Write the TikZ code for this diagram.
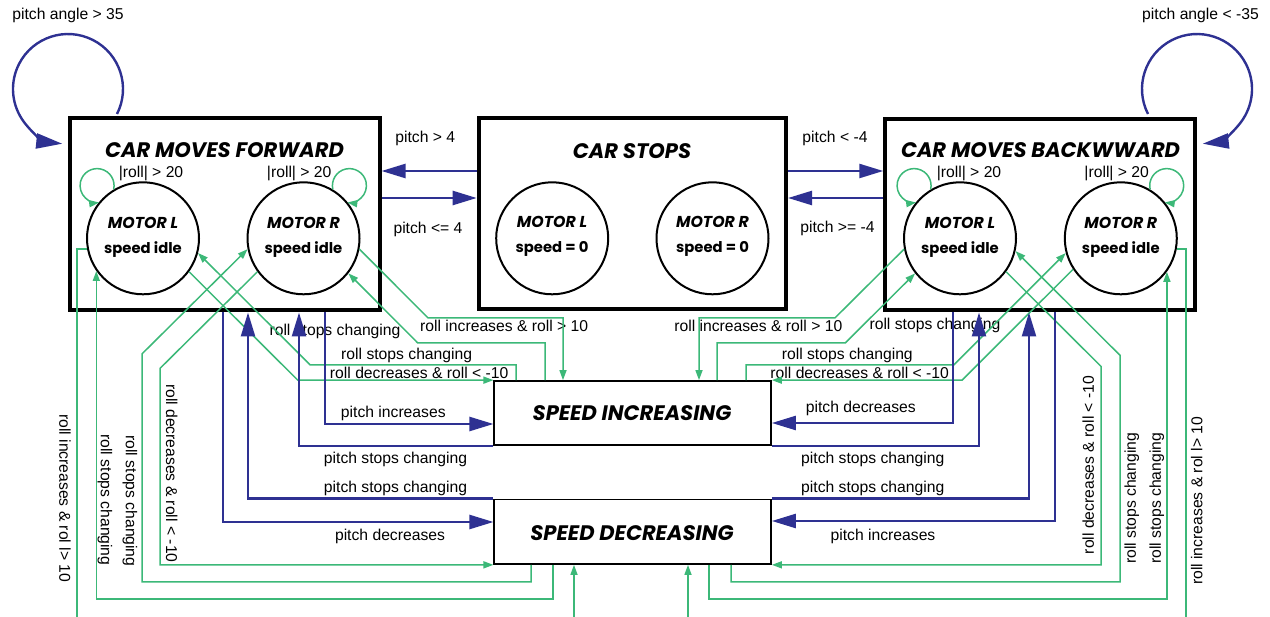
\documentclass[tikz,border=0pt]{standalone}
\usepackage{fontspec}
\setmainfont{Liberation Sans}
\newfontfamily\pop{Poppins}
\usetikzlibrary{arrows.meta}
\definecolor{myblue}{RGB}{46,49,146}
\definecolor{mygreen}{RGB}{60,184,120}
\tikzset{
 bigbox/.style={draw=black, line width=4pt, inner sep=0pt},
 sbox/.style={draw=black, line width=1.7pt, inner sep=0pt, minimum width=276.7pt, minimum height=64pt},
 motor/.style={circle, draw=black, line width=2pt, minimum size=112pt, inner sep=0pt},
 ttl/.style={font=\pop\bfseries\itshape\fontsize{21}{24}\selectfont, anchor=base, inner sep=0pt},
 mtl/.style={font=\pop\bfseries\itshape\fontsize{15.8}{18}\selectfont, anchor=base, inner sep=0pt},
 spd/.style={font=\pop\bfseries\fontsize{14.8}{17}\selectfont, anchor=base, inner sep=0pt},
 lab/.style={font=\fontsize{15.7}{18}\selectfont, anchor=base, inner sep=0pt},
 vlab/.style={font=\fontsize{15.7}{18}\selectfont, inner sep=0pt},
 bline/.style={draw=myblue, line width=2.4pt},
 barrow/.style={bline, -{Triangle[length=24pt,width=14pt]}},
 bloop/.style={bline, -{Triangle[length=26pt,width=15pt]}},
 gline/.style={draw=mygreen, line width=1.5pt},
 garrow/.style={gline, -{Triangle[length=10pt,width=7pt]}},
}
\begin{document}
\begin{tikzpicture}[x=1pt,y=-1pt]
\useasboundingbox (0,0) rectangle (1270,617);
% boxes
\node[bigbox, minimum width=310pt, minimum height=192pt] (fwd) at (224.5,214.5) {};
\node[bigbox, minimum width=307.3pt, minimum height=191pt] (stop) at (632.35,214) {};
\node[bigbox, minimum width=310pt, minimum height=191.8pt] (bwd) at (1040.3,214.6) {};
\node[sbox] (si) at (632.65,413) {};
\node[sbox, minimum height=64.5pt] (sd) at (632.65,531.75) {};
% titles
\node[ttl] (tf) at (224.5,157.7) {CAR MOVES FORWARD};
\node[ttl] (ts) at (632,158.3) {CAR STOPS};
\node[ttl] (tb) at (1040.5,157.7) {CAR MOVES BACKWWARD};
\node[ttl] (tsi) at (632,420.7) {SPEED INCREASING};
\node[ttl] (tsd) at (632,540) {SPEED DECREASING};
% motors
\node[motor] (fl) at (143,238.3) {};
\node[motor] (fr) at (303.5,238.3) {};
\node[motor] (sl) at (552.2,238.3) {};
\node[motor] (sr) at (712.5,238.3) {};
\node[motor] (bl) at (960,238.3) {};
\node[motor] (br) at (1120.8,238.3) {};
\node[mtl] (fl1) at (143,228.3) {MOTOR L};
\node[spd] (fl2) at (143,253.5) {speed idle};
\node[mtl] (fr1) at (303.5,228.3) {MOTOR R};
\node[spd] (fr2) at (303.5,253.5) {speed idle};
\node[mtl] (sl1) at (552,227.5) {MOTOR L};
\node[spd] (sl2) at (552,252.7) {speed = 0};
\node[mtl] (sr1) at (712.5,227.5) {MOTOR R};
\node[spd] (sr2) at (712.5,252.7) {speed = 0};
\node[mtl] (bl1) at (960,228.3) {MOTOR L};
\node[spd] (bl2) at (960,253.5) {speed idle};
\node[mtl] (br1) at (1120.8,228.3) {MOTOR R};
\node[spd] (br2) at (1120.8,253.5) {speed idle};
% labels
\node[lab] (a1) at (68,20) {pitch angle > 35};
\node[lab] (a2) at (1200.5,20) {pitch angle < -35};
\node[lab] (a3) at (425.3,142.7) {pitch > 4};
\node[lab] (a4) at (428,233.3) {pitch <= 4};
\node[lab] (a5) at (835,142.7) {pitch < -4};
\node[lab] (a6) at (837.5,232.7) {pitch >= -4};
\node[lab] (r1) at (151,177.3) {|roll| > 20};
\node[lab] (r2) at (299.2,177.3) {|roll| > 20};
\node[lab] (r3) at (969,177.3) {|roll| > 20};
\node[lab] (r4) at (1116.7,177.3) {|roll| > 20};
\node[lab] (c1) at (335,336) {roll stops changing};
\node[lab] (c2) at (504.2,331.7) {roll increases \& roll > 10};
\node[lab] (c3) at (406.7,359.3) {roll stops changing};
\node[lab] (c4) at (419.2,379) {roll decreases \& roll < -10};
\node[lab] (c5) at (393.3,417.3) {pitch increases};
\node[lab] (c6) at (395.5,464) {pitch stops changing};
\node[lab] (c7) at (395.5,492.3) {pitch stops changing};
\node[lab] (c8) at (390,540.7) {pitch decreases};
\node[lab] (d1) at (758.3,331.7) {roll increases \& roll > 10};
\node[lab] (d2) at (935,330) {roll stops changing};
\node[lab] (d3) at (847.3,359.3) {roll stops changing};
\node[lab] (d4) at (859.7,379) {roll decreases \& roll < -10};
\node[lab] (d5) at (860.8,412.3) {pitch decreases};
\node[lab] (d6) at (872.8,464) {pitch stops changing};
\node[lab] (d7) at (872.8,492.3) {pitch stops changing};
\node[lab] (d8) at (883,540.7) {pitch increases};
\node[vlab, rotate=-90] (v1) at (65,498.3) {roll increases \& rol l> 10};
\node[vlab, rotate=-90] (v2) at (105,500) {roll stops changing};
\node[vlab, rotate=-90] (v3) at (130,501) {roll stops changing};
\node[vlab, rotate=-90] (v4) at (171.7,473.3) {roll decreases \& roll < -10};
\node[vlab, rotate=90] (w1) at (1088.3,465) {roll decreases \& roll < -10};
\node[vlab, rotate=90] (w2) at (1131.7,498.3) {roll stops changing};
\node[vlab, rotate=90] (w3) at (1156.7,498.3) {roll stops changing};
\node[vlab, rotate=90] (w4) at (1196.7,500.8) {roll increases \& rol l> 10};
% green self loops
\draw[garrow] (fl.121) arc[start angle=-13, end angle=277, radius=17pt];
\draw[garrow] (fr.59) arc[start angle=193, end angle=-97, radius=17pt];
\draw[garrow] (bl.121) arc[start angle=-13, end angle=277, radius=17pt];
\draw[garrow] (br.59) arc[start angle=193, end angle=-97, radius=17pt];
% green connectors, forward side
\coordinate (bL) at (77,617);
\coordinate (bR) at (1186,617);
\coordinate (bM1) at (574,617);
\coordinate (bM2) at (688,617);
\draw[gline] (fl.191) -| (bL);
\draw[garrow] (sd.south -| 553,0) -- ++(0,34) -| (fl.215.3);
\draw[garrow] (sd.south -| 531,0) -- ++(0,17) -| (142,353.9) -- (fr.191);
\draw[garrow] (fr.216) -- (160,368.4) |- (sd.south west);
\draw[garrow] (fl.-36) -- (297.8,380.2) -- (si.north west);
\draw[garrow] (si.north -| 516,0) |- (310.3,365) -- (fl.-15);
\draw[garrow] (fr.-11) -- (428.1,318) -| (si.north -| 563,0);
\draw[garrow] (si.north -| 545,0) |- (417.8,343) -- (fr.-38);
% green connectors, backward side
\draw[garrow] (bl.191) -- (834.9,318) -| (si.north -| 699,0);
\draw[garrow] (si.north -| 717,0) |- (845.2,343) -- (bl.218);
\draw[garrow] (si.north -| 746,0) |- (953.7,365) -- (br.195);
\draw[garrow] (br.213) -- (962,380.2) -- (si.north east);
\draw[garrow] (bl.-36) -- (1101,366.4) |- (sd.south east);
\draw[garrow] (sd.south -| 731,0) -- ++(0,17) -| (1120,355.3) -- (bl.-13);
\draw[garrow] (sd.south -| 709,0) -- ++(0,34) -| (br.-36.7);
\draw[gline] (br.-11) -| (bR);
\draw[garrow] (bM1) -- (sd.south -| bM1);
\draw[garrow] (bM2) -- (sd.south -| bM2);
% blue self loops
\coordinate (lpF) at (117,114);
\coordinate (lpB) at (1148,114);
\draw[bloop] (lpF) arc[start angle=-27, end angle=264, radius=55pt];
\draw[bloop] (lpB) arc[start angle=207, end angle=-84, radius=55pt];
% blue connectors
\draw[barrow] (stop.west |- 0,171) -- (fwd.east |- 0,171);
\draw[barrow] (fwd.east |- 0,198) -- (stop.west |- 0,198);
\draw[barrow] (stop.east |- 0,171) -- (bwd.west |- 0,171);
\draw[barrow] (bwd.west |- 0,198) -- (stop.east |- 0,198);
\draw[barrow] (fwd.south -| 223,0) |- (sd.west |- 0,522);
\draw[barrow] (sd.north west) -| (fwd.south -| 248,0);
\draw[barrow] (si.south west) -| (fwd.south -| 299,0);
\draw[barrow] (fwd.south -| 325,0) |- (si.west |- 0,424);
\draw[barrow] (bwd.south -| 953,0) |- (si.east |- 0,423);
\draw[barrow] (si.south east) -| (bwd.south -| 979,0);
\draw[barrow] (sd.north east) -| (bwd.south -| 1029,0);
\draw[barrow] (bwd.south -| 1055,0) |- (sd.east |- 0,521);
\end{tikzpicture}
\end{document}
